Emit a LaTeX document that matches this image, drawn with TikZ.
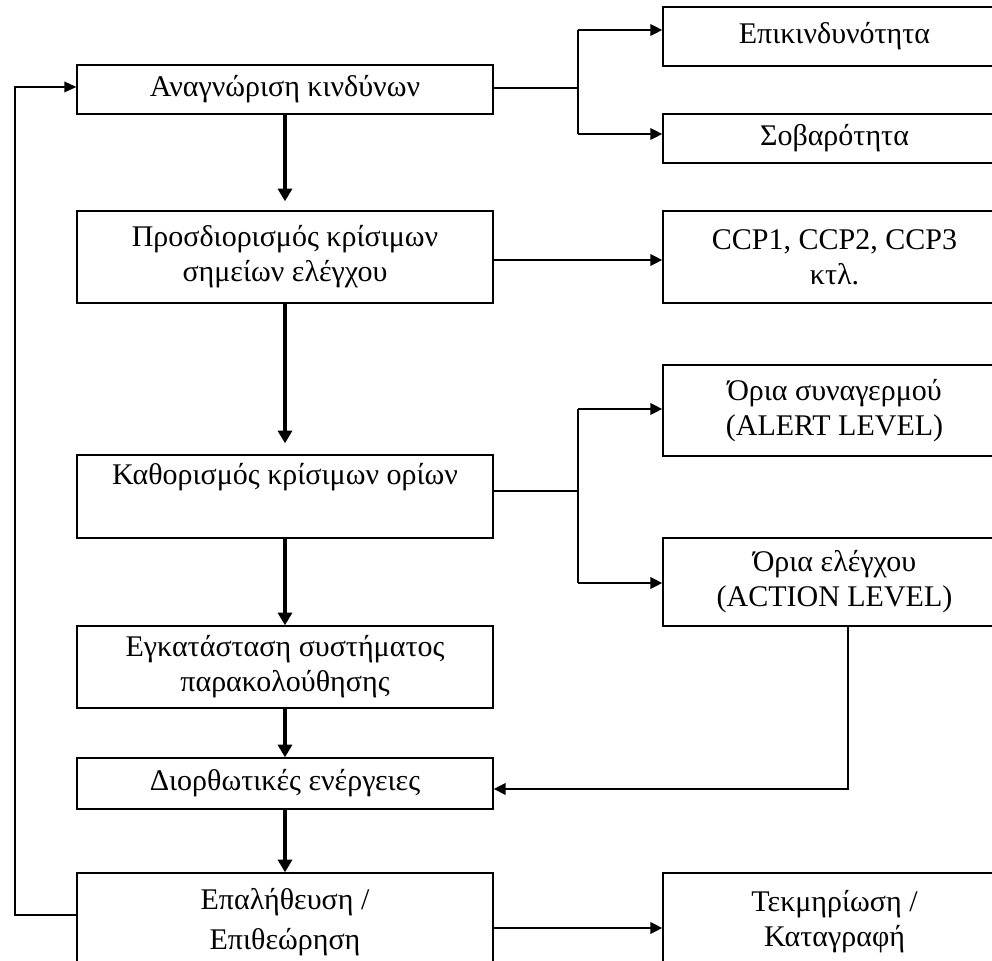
\documentclass[tikz,border=0pt]{standalone}
\usepackage{fontspec}
\setmainfont{Liberation Serif}
\usetikzlibrary{arrows.meta}

\tikzset{
  box/.style={draw=black, line width=1pt, fill=white, inner sep=0pt,
    align=center, font=\fontsize{22.5}{26.25}\selectfont},
  leftbox/.style={box, minimum width=312pt},
  rightbox/.style={box, minimum width=257.25pt},
  flow/.style={line width=3pt, -{Triangle[length=9.5pt,width=10.5pt]}},
  side/.style={line width=2pt, line join=miter, -{Triangle[length=9pt,width=8.5pt]}},
  backline/.style={line width=1.1pt, -{Triangle[length=9pt,width=8pt]}},
  link/.style={line width=1.1pt}
}

\begin{document}
\begin{tikzpicture}[x=0.75pt,y=-0.75pt]
  \useasboundingbox (0,0) rectangle (992,960);
  \fill[white] (0,0) rectangle (992,960);
  \clip (0,0) rectangle (992,960);

  % main column of steps
  \node[leftbox, minimum height=36.75pt] (b1) at (285,89.5) {Αναγνώριση κινδύνων};
  \node[leftbox, minimum height=69pt]    (b2) at (285,257) {Προσδιορισμός κρίσιμων\\σημείων ελέγχου};
  \node[leftbox, minimum height=62.25pt] (b3) at (285,496.5) {Καθορισμός κρίσιμων ορίων\\\strut};
  \node[leftbox, minimum height=61.5pt]  (b4) at (285,667) {Εγκατάσταση συστήματος\\παρακολούθησης};
  \node[leftbox, minimum height=38.25pt] (b5) at (285,783.5) {Διορθωτικές ενέργειες};
  \node[leftbox, minimum height=73.5pt]  (b6) at (285,922) {Επαλήθευση /\\[3.75pt]Επιθεώρηση};

  % outcomes on the right
  \node[rightbox, minimum height=44.25pt] (r1) at (834.5,36.5) {Επικινδυνότητα};
  \node[rightbox, minimum height=36.75pt] (r2) at (834.5,138.5) {Σοβαρότητα};
  \node[rightbox, minimum height=69pt]    (r3) at (834.5,257) {CCP1, CCP2, CCP3\\κτλ.};
  \node[rightbox, minimum height=68.25pt] (r4) at (834.5,410.5) {Όρια συναγερμού\\(ALERT LEVEL)};
  \node[rightbox, minimum height=66pt]    (r5) at (834.5,582) {Όρια ελέγχου\\(ACTION LEVEL)};
  \node[rightbox, minimum height=73.5pt]  (r6) at (834.5,922) {Τεκμηρίωση /\\Καταγραφή};

  % vertical flow
  \draw[flow] (b1.south) -- ([yshift=6.75pt]b2.north);
  \draw[flow] (b2.south) -- ([yshift=8.25pt]b3.north);
  \draw[flow] (b3.south) -- (b4.north);
  \draw[flow] (b4.south) -- (b5.north);
  \draw[flow] (b5.south) -- (b6.north);

  % branch from hazard identification
  \coordinate (s1) at (578,30);
  \coordinate (s2) at (578,134);
  \draw[link] ([yshift=1.1pt]b1.east) -- ([yshift=1.1pt]b1.east -| s1);
  \draw[link] (s1) -- (s2);
  \draw[side] (s1) -- (s1 -| r1.west);
  \draw[side] (s2) -- (s2 -| r2.west);

  % critical control points
  \draw[side] ([yshift=-2.25pt]b2.east) -- ([yshift=-2.25pt]r3.west);

  % branch from critical limits
  \coordinate (s3) at (578,409);
  \coordinate (s4) at (578,583);
  \draw[link] ([yshift=4.1pt]b3.east) -- ([yshift=4.1pt]b3.east -| s3);
  \draw[link] (s3) -- (s4);
  \draw[side] (s3) -- (s3 -| r4.west);
  \draw[side] (s4) -- (s4 -| r5.west);

  % action level back to corrective actions
  \coordinate (k) at (848,0);
  \draw[side] (r5.south -| k) |- ([yshift=-4.1pt]b5.east);

  % documentation
  \draw[side] ([yshift=-4.5pt]b6.east) -- ([yshift=-4.5pt]r6.west);

  % feedback loop
  \coordinate (fb) at (15,0);
  \draw[backline] ([yshift=5.25pt]b6.west) -- ([yshift=5.25pt]b6.west -| fb) |- ([yshift=1.9pt]b1.west);
\end{tikzpicture}
\end{document}
